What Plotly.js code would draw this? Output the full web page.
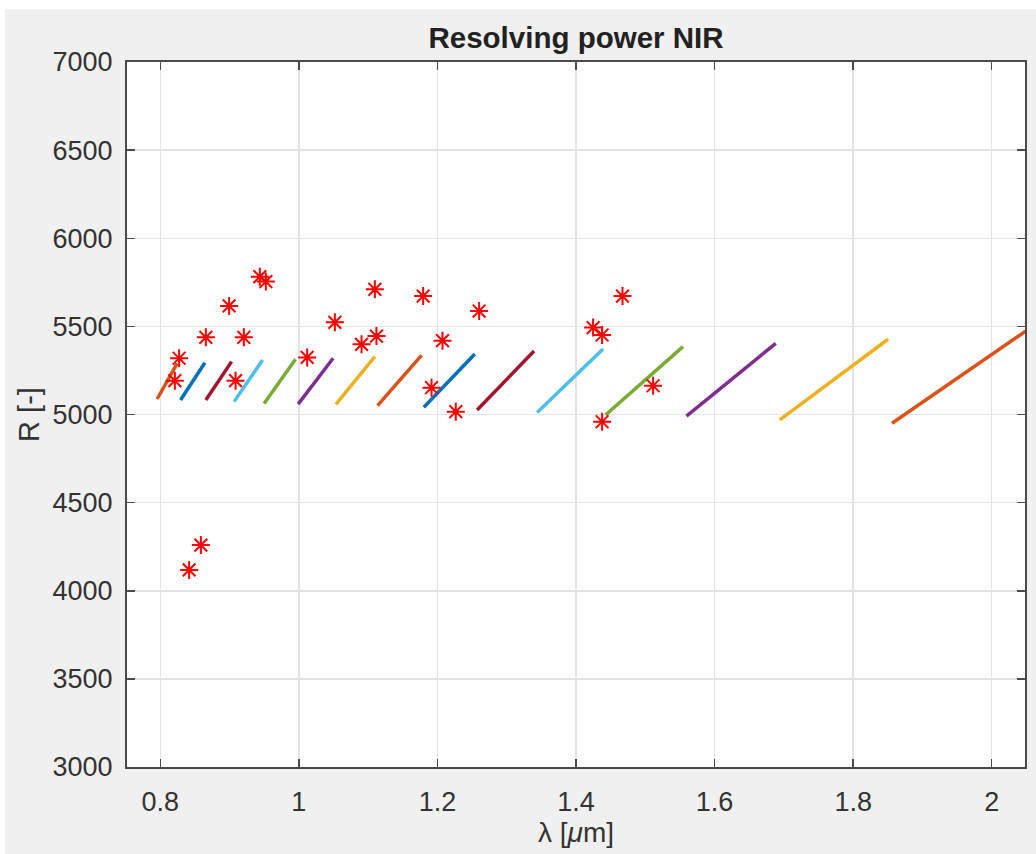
<!DOCTYPE html>
<html>
<head>
<meta charset="utf-8">
<script src="https://cdn.plot.ly/plotly-3.0.1.min.js"></script>
<style>
  html, body { margin: 0; padding: 0; background: #ffffff; }
  #chart { position: absolute; left: 5px; top: 9px; width: 1031px; height: 845px; }
</style>
</head>
<body>
<div id="chart"></div>
<script>
// Echelle orders: start/end wavelength (µm) and resolving power at each end
const orderStartLambda = [0.7955, 0.8293, 0.8658, 0.9066, 0.9499, 0.9990, 1.0534, 1.1136, 1.1804, 1.2573, 1.3439, 1.4426, 1.5594, 1.6941, 1.8561];
const orderEndLambda   = [0.8244, 0.8644, 0.9029, 0.9476, 0.9952, 1.0495, 1.1097, 1.1770, 1.2540, 1.3395, 1.4391, 1.5545, 1.6883, 1.8504, 2.0600];
const orderStartR      = [5088, 5082, 5082, 5073, 5063, 5059, 5058, 5050, 5041, 5025, 5012, 4997, 4991, 4969, 4950];
const orderEndR        = [5290, 5294, 5300, 5309, 5313, 5319, 5328, 5336, 5343, 5360, 5372, 5385, 5404, 5427, 5503];

// Measured points (red asterisks)
const starLambda = [0.8211, 0.8272, 0.8417, 0.8586, 0.8658, 0.8994, 0.9087, 0.9206, 0.9437, 0.9524, 1.0120, 1.0520, 1.0905, 1.1097, 1.1120, 1.1794, 1.1915, 1.2073, 1.2265, 1.2602, 1.4247, 1.4377, 1.4377, 1.4671, 1.5113];
const starR      = [5192, 5319, 4118, 4259, 5438, 5616, 5192, 5438, 5782, 5754, 5324, 5523, 5398, 5710, 5445, 5672, 5152, 5419, 5016, 5587, 5493, 5451, 4959, 5672, 5163];

// Axis ticks
const xTicks = [0.8, 1, 1.2, 1.4, 1.6, 1.8, 2];
const yTicks = [3000, 3500, 4000, 4500, 5000, 5500, 6000, 6500, 7000];

const palette = ['#D95319', '#0072BD', '#A2142F', '#4DBEEE', '#77AC30', '#7E2F8E', '#EDB120'];

const traces = [];
for (let i = 0; i < orderStartLambda.length; i++) {
  traces.push({
    type: 'scatter', mode: 'lines',
    x: [orderStartLambda[i], orderEndLambda[i]],
    y: [orderStartR[i], orderEndR[i]],
    line: { color: palette[i % palette.length], width: 3.5 },
    hoverinfo: 'skip', showlegend: false
  });
}
traces.push({
  type: 'scatter', mode: 'markers',
  x: starLambda, y: starR,
  marker: { symbol: 'asterisk-open', size: 15, color: '#ff0000', line: { color: '#ff0000', width: 2 } },
  showlegend: false
});

const FONT = 'Liberation Sans, Arial, sans-serif';
const axisCommon = {
  showline: true, mirror: 'ticks', linecolor: '#4a4a4a', linewidth: 2,
  ticks: 'inside', ticklen: 8, tickwidth: 1.5, tickcolor: '#4a4a4a',
  showgrid: true, gridcolor: '#e3e3e3', gridwidth: 1.5,
  zeroline: false,
  tickfont: { family: FONT, size: 27, color: '#333333' }
};

const layout = {
  width: 1031, height: 845,
  paper_bgcolor: '#f0f0f0', plot_bgcolor: '#ffffff',
  margin: { l: 122, r: 11, t: 53, b: 87 },
  showlegend: false,
  title: {
    text: '<b>Resolving power NIR</b>',
    font: { family: FONT, size: 29.5, color: '#222222' },
    x: 0.5, xref: 'paper', y: 1, yref: 'paper', yanchor: 'bottom', pad: { b: 14 }
  },
  xaxis: Object.assign({}, axisCommon, {
    range: [0.752, 2.048], tickvals: xTicks, ticktext: xTicks.map(String),
    ticklabelstandoff: 10,
    title: { text: 'λ [<i>μ</i>m]', font: { family: FONT, size: 28, color: '#333333' }, standoff: 6 }
  }),
  yaxis: Object.assign({}, axisCommon, {
    range: [3000, 7000], tickvals: yTicks, ticktext: yTicks.map(String),
    ticklabelstandoff: 7,
    title: { text: 'R [-]', font: { family: FONT, size: 29, color: '#333333' }, standoff: 4 }
  })
};

Plotly.newPlot('chart', traces, layout, { displayModeBar: false, staticPlot: true });
</script>
</body>
</html>
